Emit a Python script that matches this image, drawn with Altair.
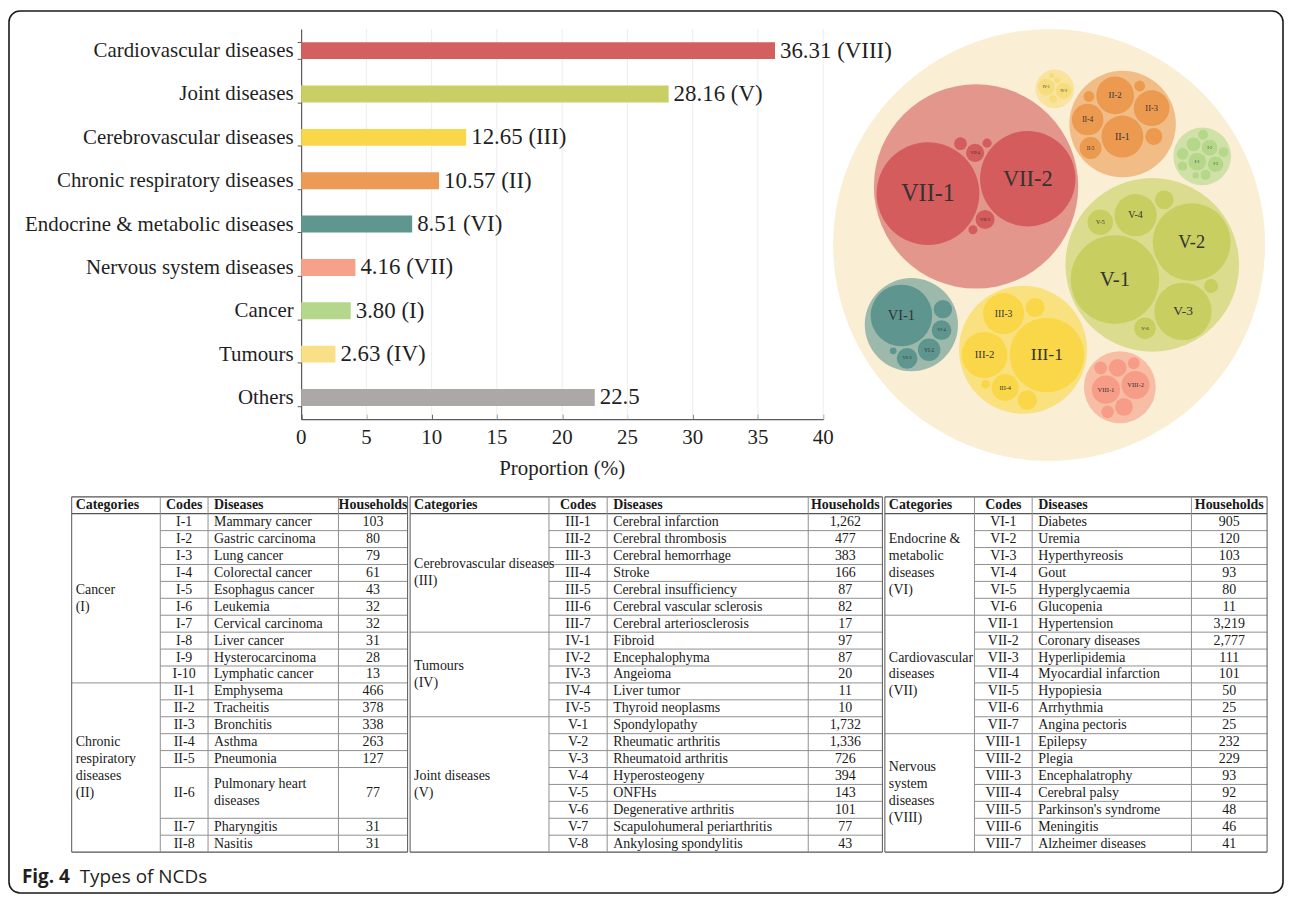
import math
import altair as alt
import pandas as pd

SERIF = "Liberation Serif"
SANS = "Open Sans"
INK = "#1f1f1f"

# ------------------------------------------------------------------ bar chart data
BAR_CATEGORIES = ["Cardiovascular diseases", "Joint diseases", "Cerebrovascular diseases",
                  "Chronic respiratory diseases", "Endocrine & metabolic diseases",
                  "Nervous system diseases", "Cancer", "Tumours", "Others"]
BAR_VALUES = [36.31, 28.16, 12.65, 10.57, 8.51, 4.16, 3.80, 2.63, 22.5]
BAR_VALUE_TEXT = ["36.31", "28.16", "12.65", "10.57", "8.51", "4.16", "3.80", "2.63", "22.5"]
BAR_GROUP_TAGS = ["(VIII)", "(V)", "(III)", "(II)", "(VI)", "(VII)", "(I)", "(IV)", ""]
BAR_COLORS = ["#d45f5f", "#c9cf64", "#f9d64a", "#eb9b55", "#5f9790",
              "#f8a189", "#b5d78b", "#f9df86", "#aca8a7"]
BAR_TICKS = [0, 5, 10, 15, 20, 25, 30, 35, 40]
BAR_X_TITLE = "Proportion (%)"

# ------------------------------------------------------------------ NCD table data
GROUP_IDS = ["I", "II", "III", "IV", "V", "VI", "VII", "VIII"]
GROUP_LABELS = ["Cancer\n(I)", "Chronic\nrespiratory\ndiseases\n(II)",
                "Cerebrovascular diseases\n(III)", "Tumours\n(IV)", "Joint diseases\n(V)",
                "Endocrine &\nmetabolic\ndiseases\n(VI)", "Cardiovascular\ndiseases\n(VII)",
                "Nervous\nsystem\ndiseases\n(VIII)"]
GROUP_COLORS = ["#b4d78a", "#eb9a50", "#f9d748", "#f7dc7c", "#c8ce5f",
                "#5e958f", "#d45c5c", "#f79c86"]

DISEASES_I = ["Mammary cancer", "Gastric carcinoma", "Lung cancer", "Colorectal cancer",
              "Esophagus cancer", "Leukemia", "Cervical carcinoma", "Liver cancer",
              "Hysterocarcinoma", "Lymphatic cancer"]
HOUSEHOLDS_I = [103, 80, 79, 61, 43, 32, 32, 31, 28, 13]
DISEASES_II = ["Emphysema", "Tracheitis", "Bronchitis", "Asthma", "Pneumonia",
               "Pulmonary heart\ndiseases", "Pharyngitis", "Nasitis"]
HOUSEHOLDS_II = [466, 378, 338, 263, 127, 77, 31, 31]
DISEASES_III = ["Cerebral infarction", "Cerebral thrombosis", "Cerebral hemorrhage", "Stroke",
                "Cerebral insufficiency", "Cerebral vascular sclerosis",
                "Cerebral arteriosclerosis"]
HOUSEHOLDS_III = [1262, 477, 383, 166, 87, 82, 17]
DISEASES_IV = ["Fibroid", "Encephalophyma", "Angeioma", "Liver tumor", "Thyroid neoplasms"]
HOUSEHOLDS_IV = [97, 87, 20, 11, 10]
DISEASES_V = ["Spondylopathy", "Rheumatic arthritis", "Rheumatoid arthritis", "Hyperosteogeny",
              "ONFHs", "Degenerative arthritis", "Scapulohumeral periarthritis",
              "Ankylosing spondylitis"]
HOUSEHOLDS_V = [1732, 1336, 726, 394, 143, 101, 77, 43]
DISEASES_VI = ["Diabetes", "Uremia", "Hyperthyreosis", "Gout", "Hyperglycaemia", "Glucopenia"]
HOUSEHOLDS_VI = [905, 120, 103, 93, 80, 11]
DISEASES_VII = ["Hypertension", "Coronary diseases", "Hyperlipidemia", "Myocardial infarction",
                "Hypopiesia", "Arrhythmia", "Angina pectoris"]
HOUSEHOLDS_VII = [3219, 2777, 111, 101, 50, 25, 25]
DISEASES_VIII = ["Epilepsy", "Plegia", "Encephalatrophy", "Cerebral palsy",
                 "Parkinson's syndrome", "Meningitis", "Alzheimer diseases"]
HOUSEHOLDS_VIII = [232, 229, 93, 92, 48, 46, 41]

BUBBLE_LABELED_CODES = ["I-1", "I-2", "I-3", "II-1", "II-2", "II-3", "II-4", "II-5",
                        "III-1", "III-2", "III-3", "III-4", "IV-1", "IV-2",
                        "V-1", "V-2", "V-3", "V-4", "V-5", "V-6",
                        "VI-1", "VI-2", "VI-3", "VI-4", "VII-1", "VII-2", "VII-3", "VII-4",
                        "VIII-1", "VIII-2"]

DISEASES = [DISEASES_I, DISEASES_II, DISEASES_III, DISEASES_IV,
            DISEASES_V, DISEASES_VI, DISEASES_VII, DISEASES_VIII]
HOUSEHOLDS = [HOUSEHOLDS_I, HOUSEHOLDS_II, HOUSEHOLDS_III, HOUSEHOLDS_IV,
              HOUSEHOLDS_V, HOUSEHOLDS_VI, HOUSEHOLDS_VII, HOUSEHOLDS_VIII]

# ------------------------------------------------------------------ layout (chart view pixels)
W, H = 1280, 886
BAR_X_RANGE = [293.5, 818.0]
BAR_Y_RANGE = [18.0, 410.0]
BAR_TICK_LABEL_GAP = 19
BAR_TITLE_GAP = 50
BUB_X_RANGE = [828.0, 1262.0]
BUB_Y_RANGE = [18.0, 452.0]
TAB_X_RANGE = [63.0, 1264.0]
TAB_Y_RANGE = [488.0, 845.0]
TAB_BLOCKS = [["I", "II"], ["III", "IV", "V"], ["VI", "VII", "VIII"]]
TAB_COL_EDGES = [[0, 89, 137, 268, 337.5], [340, 479.5, 538, 740, 814.5],
                 [817, 907, 965, 1125, 1201]]
TAB_ROW_SPAN = {"II-6": 3}
TAB_ROWS = 21
CAPTION_Y = 870
PACK_ORDER = ["VII", "V", "III", "II", "IV", "VI", "I", "VIII"]   # placement sequence
PACK_PAD_TOP = 1.5
PACK_PAD_CHILD = 1.0
PACK_EDGE = 1.0
OUTER_MARGIN = 1.04
TOP_ANGLE = 24.0
GROUP_ANGLES = {"I": -48, "II": -100, "III": 180, "IV": 12, "V": -26,
                "VI": 51, "VII": -8.5, "VIII": -9}
LABEL_FONT_RATIO = 0.47


# ------------------------------------------------------------------ circle packing (front-chain)
class Circle:
    __slots__ = ("r", "x", "y")

    def __init__(self, r, x=0.0, y=0.0):
        self.r, self.x, self.y = r, x, y


class FrontNode:
    __slots__ = ("c", "next", "prev")

    def __init__(self, c):
        self.c, self.next, self.prev = c, None, None


def _place(b, a, c):
    dx, dy = b.x - a.x, b.y - a.y
    d2 = dx * dx + dy * dy
    if d2:
        a2 = (a.r + c.r) ** 2
        b2 = (b.r + c.r) ** 2
        if a2 > b2:
            x = (d2 + b2 - a2) / (2 * d2)
            y = math.sqrt(max(0.0, b2 / d2 - x * x))
            c.x = b.x - x * dx - y * dy
            c.y = b.y - x * dy + y * dx
        else:
            x = (d2 + a2 - b2) / (2 * d2)
            y = math.sqrt(max(0.0, a2 / d2 - x * x))
            c.x = a.x + x * dx - y * dy
            c.y = a.y + x * dy + y * dx
    else:
        c.x, c.y = a.x + c.r, a.y


def _intersects(a, b):
    dr = a.r + b.r - 1e-6
    dx, dy = b.x - a.x, b.y - a.y
    return dr > 0 and dr * dr > dx * dx + dy * dy


def _score(node):
    a, b = node.c, node.next.c
    ab = a.r + b.r
    dx = (a.x * b.r + b.x * a.r) / ab
    dy = (a.y * b.r + b.y * a.r) / ab
    return dx * dx + dy * dy


def _encloses_not(a, b):
    dr = a.r - b.r
    dx, dy = b.x - a.x, b.y - a.y
    return dr < 0 or dr * dr < dx * dx + dy * dy


def _encloses_weak(a, b):
    dr = a.r - b.r + max(a.r, b.r, 1) * 1e-9
    dx, dy = b.x - a.x, b.y - a.y
    return dr > 0 and dr * dr > dx * dx + dy * dy


def _encloses_weak_all(a, B):
    return all(_encloses_weak(a, b) for b in B)


def _basis2(a, b):
    x21, y21, r21 = b.x - a.x, b.y - a.y, b.r - a.r
    l = math.sqrt(x21 * x21 + y21 * y21)
    return Circle((l + a.r + b.r) / 2, (a.x + b.x + x21 / l * r21) / 2,
                  (a.y + b.y + y21 / l * r21) / 2)


def _basis3(a, b, c):
    x1, y1, r1 = a.x, a.y, a.r
    x2, y2, r2 = b.x, b.y, b.r
    x3, y3, r3 = c.x, c.y, c.r
    a2, a3 = x1 - x2, x1 - x3
    b2, b3 = y1 - y2, y1 - y3
    c2, c3 = r2 - r1, r3 - r1
    d1 = x1 * x1 + y1 * y1 - r1 * r1
    d2 = d1 - x2 * x2 - y2 * y2 + r2 * r2
    d3 = d1 - x3 * x3 - y3 * y3 + r3 * r3
    ab = a3 * b2 - a2 * b3
    xa = (b2 * d3 - b3 * d2) / (ab * 2) - x1
    xb = (b3 * c2 - b2 * c3) / ab
    ya = (a3 * d2 - a2 * d3) / (ab * 2) - y1
    yb = (a2 * c3 - a3 * c2) / ab
    A = xb * xb + yb * yb - 1
    Bq = 2 * (r1 + xa * xb + ya * yb)
    Cq = xa * xa + ya * ya - r1 * r1
    if abs(A) > 1e-6:
        r = -((Bq + math.sqrt(max(0.0, Bq * Bq - 4 * A * Cq))) / (2 * A))
    else:
        r = -(Cq / Bq)
    return Circle(r, x1 + xa + xb * r, y1 + ya + yb * r)


def _basis(B):
    if len(B) == 1:
        return Circle(B[0].r, B[0].x, B[0].y)
    if len(B) == 2:
        return _basis2(B[0], B[1])
    return _basis3(B[0], B[1], B[2])


def _extend_basis(B, p):
    if _encloses_weak_all(p, B):
        return [p]
    for i in range(len(B)):
        if _encloses_not(p, B[i]) and _encloses_weak_all(_basis2(B[i], p), B):
            return [B[i], p]
    for i in range(len(B) - 1):
        for j in range(i + 1, len(B)):
            if (_encloses_not(_basis2(B[i], B[j]), p)
                    and _encloses_not(_basis2(B[i], p), B[j])
                    and _encloses_not(_basis2(B[j], p), B[i])
                    and _encloses_weak_all(_basis3(B[i], B[j], p), B)):
                return [B[i], B[j], p]
    raise RuntimeError("enclose failed")


def _enclose(circles):
    try:
        i, n, B, e, guard = 0, len(circles), [], None, 0
        while i < n:
            p = circles[i]
            if e is not None and _encloses_weak(e, p):
                i += 1
            else:
                B = _extend_basis(B, p)
                e = _basis(B)
                i = 0
            guard += 1
            if guard > 200000:
                raise RuntimeError("enclose loop")
        return e
    except Exception:
        cx = sum(c.x for c in circles) / len(circles)
        cy = sum(c.y for c in circles) / len(circles)
        r = max(math.hypot(c.x - cx, c.y - cy) + c.r for c in circles)
        return Circle(r, cx, cy)


def pack_siblings(circles):
    n = len(circles)
    if n == 0:
        return 0.0
    a = circles[0]
    a.x = a.y = 0.0
    if n == 1:
        return a.r
    b = circles[1]
    a.x, b.x, b.y = -b.r, a.r, 0.0
    if n == 2:
        return a.r + b.r
    c = circles[2]
    _place(b, a, c)
    a, b, c = FrontNode(a), FrontNode(b), FrontNode(c)
    a.next = b; c.prev = b
    b.next = c; a.prev = c
    c.next = a; b.prev = a
    i = 3
    while i < n:
        circ = circles[i]
        _place(a.c, b.c, circ)
        node = FrontNode(circ)
        j, k = b.next, a.prev
        sj, sk = b.c.r, a.c.r
        retry = False
        while True:
            if sj <= sk:
                if _intersects(j.c, circ):
                    b = j; a.next = b; b.prev = a
                    retry = True
                    break
                sj += j.c.r; j = j.next
            else:
                if _intersects(k.c, circ):
                    a = k; a.next = b; b.prev = a
                    retry = True
                    break
                sk += k.c.r; k = k.prev
            if j is k.next:
                break
        if retry:
            continue
        node.prev = a; node.next = b
        a.next = node; b.prev = node
        b = node
        aa = _score(a)
        cur = node
        while True:
            cur = cur.next
            if cur is b:
                break
            ca = _score(cur)
            if ca < aa:
                a, aa = cur, ca
        b = a.next
        i += 1
    chain = [b.c]
    cur = b
    while True:
        cur = cur.next
        if cur is b:
            break
        chain.append(cur.c)
    e = _enclose(chain)
    for circ in circles:
        circ.x -= e.x
        circ.y -= e.y
    return e.r


def rotate(x, y, deg):
    t = math.radians(deg)
    return x * math.cos(t) - y * math.sin(t), x * math.sin(t) + y * math.cos(t)


# ------------------------------------------------------------------ bubble layout
group_totals = [sum(v) for v in HOUSEHOLDS]
order = [GROUP_IDS.index(gid) for gid in PACK_ORDER]
top_circles = [Circle(math.sqrt(group_totals[g]) + PACK_PAD_TOP) for g in order]
R_ENC = pack_siblings(top_circles)
R_OUT = R_ENC * OUTER_MARGIN

group_rows, child_rows = [], []
for circ, g in zip(top_circles, order):
    gx, gy = rotate(circ.x, circ.y, TOP_ANGLE)
    gr = circ.r - PACK_PAD_TOP
    gid = GROUP_IDS[g]
    group_rows.append({"x": gx, "y": gy, "d2": (2 * gr) ** 2, "fill": GROUP_COLORS[g]})
    vals = HOUSEHOLDS[g]
    kids = [Circle(math.sqrt(v) + PACK_PAD_CHILD) for v in vals]
    rc = pack_siblings(kids)
    f = (gr - PACK_EDGE) / rc
    for k, (kc, v) in enumerate(zip(kids, vals)):
        cx, cy = rotate(kc.x * f, kc.y * f, GROUP_ANGLES[gid])
        r = math.sqrt(v) * f
        child_rows.append({"code": f"{gid}-{k + 1}", "x": gx + cx, "y": gy + cy,
                           "r": r, "d2": (2 * r) ** 2, "fill": GROUP_COLORS[g]})

outer_df = pd.DataFrame({"x": [0.0], "y": [0.0], "d2": [(2 * R_OUT) ** 2], "fill": ["#faefd5"]})
group_df = pd.DataFrame(group_rows)
child_df = pd.DataFrame(child_rows)
label_df = child_df[child_df["code"].isin(BUBBLE_LABELED_CODES)].reset_index(drop=True)

# ------------------------------------------------------------------ table layout rows
LINE_LIGHT = "#8f8f8f"
LINE_DARK = "#555555"


def ml_y(center, text):
    # first line of a multi-line label sits at y; lift so that the block is centred
    return center - (text.count("\n")) / 2


lines, body_left, body_center, head_left, head_center = [], [], [], [], []
for bi, block in enumerate(TAB_BLOCKS):
    e = TAB_COL_EDGES[bi]
    head_left += [{"x": e[0] + 4, "y": 0.5, "t": "Categories"},
                  {"x": e[2] + 6, "y": 0.5, "t": "Diseases"}]
    head_center += [{"x": (e[1] + e[2]) / 2, "y": 0.5, "t": "Codes"},
                    {"x": (e[3] + e[4]) / 2, "y": 0.5, "t": "Households"}]
    row = 1
    for gi_, gid in enumerate(block):
        g = GROUP_IDS.index(gid)
        start = row
        for k, (d, v) in enumerate(zip(DISEASES[g], HOUSEHOLDS[g])):
            code = f"{gid}-{k + 1}"
            span = TAB_ROW_SPAN.get(code, 1)
            yc = row + span / 2
            body_center += [{"x": (e[1] + e[2]) / 2, "y": yc, "t": code},
                            {"x": (e[3] + e[4]) / 2, "y": yc, "t": f"{v:,}"}]
            body_left.append({"x": e[2] + 6, "y": ml_y(yc, d), "t": d})
            row += span
            if k < len(DISEASES[g]) - 1:
                lines.append({"x": e[1], "x2": e[4], "y": row, "y2": row, "c": LINE_LIGHT, "w": 1.0})
        body_left.append({"x": e[0] + 4, "y": ml_y((start + row) / 2, GROUP_LABELS[g]),
                          "t": GROUP_LABELS[g]})
        if gi_ < len(block) - 1:
            lines.append({"x": e[0], "x2": e[4], "y": row, "y2": row, "c": LINE_LIGHT, "w": 1.0})
    for yy in (0, 1, TAB_ROWS):
        lines.append({"x": e[0], "x2": e[4], "y": yy, "y2": yy, "c": LINE_DARK, "w": 1.2})
    for xi, xx in enumerate(e):
        col = LINE_DARK if xi in (0, len(e) - 1) else LINE_LIGHT
        lines.append({"x": xx, "x2": xx, "y": 0, "y2": TAB_ROWS, "c": col, "w": 1.0})

lines_df = pd.DataFrame(lines)

# ------------------------------------------------------------------ charts
bar_df = pd.DataFrame({
    "category": BAR_CATEGORIES,
    "value": BAR_VALUES,
    "label": [f"{t} {g}".strip() for t, g in zip(BAR_VALUE_TEXT, BAR_GROUP_TAGS)],
    "color": BAR_COLORS,
})
bar_x_scale = alt.Scale(domain=[0, 40], range=BAR_X_RANGE, nice=False, zero=True)
bar_y_scale = alt.Scale(domain=BAR_CATEGORIES, range=BAR_Y_RANGE,
                        paddingInner=0.61, paddingOuter=0.305)

grid_df = pd.DataFrame({"tick": BAR_TICKS[1:], "lo": 0.0, "hi": 1.0})
bar_grid = alt.Chart(grid_df).mark_rule(color="#ededed", strokeWidth=1).encode(
    x=alt.X("tick:Q", scale=bar_x_scale, axis=None),
    y=alt.Y("lo:Q", scale=alt.Scale(domain=[0, 1], range=BAR_Y_RANGE[::-1], nice=False), axis=None),
    y2="hi:Q",
)

bars = alt.Chart(bar_df).mark_bar().encode(
    x=alt.X("value:Q", scale=bar_x_scale,
            axis=alt.Axis(orient="bottom", offset=BAR_Y_RANGE[1] - H, values=BAR_TICKS,
                          grid=False, ticks=False, labels=False, title=None,
                          domainColor="#5a5a5a", domainWidth=1.2)),
    y=alt.Y("category:N", scale=bar_y_scale,
            axis=alt.Axis(orient="left", offset=-BAR_X_RANGE[0], tickBand="extent", tickSize=4,
                          tickColor="#5a5a5a", domainColor="#5a5a5a", domainWidth=1.2,
                          labelFont=SERIF, labelFontSize=21, labelColor=INK, labelPadding=4,
                          labelLimit=400, title=None, grid=False)),
    color=alt.Color("color:N", scale=None),
)

bar_labels = alt.Chart(bar_df).mark_text(
    align="left", baseline="middle", dx=5, font=SERIF, fontSize=23, color=INK
).encode(
    x=alt.X("value:Q", scale=bar_x_scale,
            axis=alt.Axis(orient="top", offset=-BAR_Y_RANGE[1], values=BAR_TICKS, labels=False,
                          domain=False, grid=False, ticks=True, tickSize=5,
                          tickColor="#5a5a5a", title=None)),
    y=alt.Y("category:N", scale=bar_y_scale, axis=None),
    text="label:N",
)

tick_df = pd.DataFrame({"tick": BAR_TICKS, "t": [str(v) for v in BAR_TICKS]})
bar_tick_labels = alt.Chart(tick_df).mark_text(
    align="center", baseline="middle", font=SERIF, fontSize=21, color=INK
).encode(
    x=alt.X("tick:Q", scale=bar_x_scale, axis=None),
    y=alt.value(BAR_Y_RANGE[1] + BAR_TICK_LABEL_GAP),
    text="t:N",
)
bar_title = alt.Chart(pd.DataFrame({"mid": [20.0], "t": [BAR_X_TITLE]})).mark_text(
    align="center", baseline="middle", font=SERIF, fontSize=21, color=INK
).encode(
    x=alt.X("mid:Q", scale=bar_x_scale, axis=None),
    y=alt.value(BAR_Y_RANGE[1] + BAR_TITLE_GAP),
    text="t:N",
)

bub_x = alt.Scale(domain=[-R_OUT, R_OUT], range=BUB_X_RANGE, nice=False, zero=False)
bub_y = alt.Scale(domain=[-R_OUT, R_OUT], range=BUB_Y_RANGE, nice=False, zero=False)
bub_px = BUB_X_RANGE[1] - BUB_X_RANGE[0]


def bubble_layer(df, opacity):
    return alt.Chart(df).mark_circle(opacity=opacity, strokeWidth=0).encode(
        x=alt.X("x:Q", scale=bub_x, axis=None),
        y=alt.Y("y:Q", scale=bub_y, axis=None),
        size=alt.Size("d2:Q", legend=None,
                      scale=alt.Scale(type="linear", domain=[0, (2 * R_OUT) ** 2],
                                      range=[0, bub_px ** 2], zero=True, nice=False)),
        color=alt.Color("fill:N", scale=None),
    )


outer_layer = bubble_layer(outer_df, 1.0)
group_layer = bubble_layer(group_df, 0.6)
child_layer = bubble_layer(child_df, 1.0)

bubble_text = alt.Chart(label_df).mark_text(
    font=SERIF, color="#333333", baseline="middle", align="center"
).encode(
    x=alt.X("x:Q", scale=bub_x, axis=None),
    y=alt.Y("y:Q", scale=bub_y, axis=None),
    size=alt.Size("r:Q", legend=None,
                  scale=alt.Scale(domain=[0, R_OUT], range=[0, LABEL_FONT_RATIO * bub_px / 2],
                                  zero=True, nice=False)),
    text="code:N",
)

tab_x = alt.Scale(domain=[0, TAB_COL_EDGES[-1][-1]], range=TAB_X_RANGE, nice=False, zero=False)
tab_y = alt.Scale(domain=[0, TAB_ROWS], range=TAB_Y_RANGE, nice=False, zero=False)

table_lines = alt.Chart(lines_df).mark_rule().encode(
    x=alt.X("x:Q", scale=tab_x, axis=None), x2="x2:Q",
    y=alt.Y("y:Q", scale=tab_y, axis=None), y2="y2:Q",
    color=alt.Color("c:N", scale=None),
    strokeWidth=alt.StrokeWidth("w:Q", scale=None),
)


def table_text(rows, align, weight):
    return alt.Chart(pd.DataFrame(rows)).mark_text(
        align=align, baseline="middle", font=SERIF, fontSize=14, fontWeight=weight,
        lineBreak="\n", lineHeight=17, color="#1a1a1a"
    ).encode(
        x=alt.X("x:Q", scale=tab_x, axis=None),
        y=alt.Y("y:Q", scale=tab_y, axis=None),
        text="t:N",
    )


tab_head_left = table_text(head_left, "left", "bold")
tab_head_center = table_text(head_center, "center", "bold")
tab_body_left = table_text(body_left, "left", "normal")
tab_body_center = table_text(body_center, "center", "normal")

cap_fig = alt.Chart(pd.DataFrame({"t": ["Fig. 4"]})).mark_text(
    align="left", baseline="middle", font=SANS, fontSize=19, fontWeight="bold", color="#231f20"
).encode(x=alt.value(13), y=alt.value(CAPTION_Y), text="t:N")
cap_title = alt.Chart(pd.DataFrame({"t": ["Types of NCDs"]})).mark_text(
    align="left", baseline="middle", font=SANS, fontSize=19, color="#231f20"
).encode(x=alt.value(71), y=alt.value(CAPTION_Y), text="t:N")

chart = alt.layer(
    bar_grid, bars, bar_labels, bar_tick_labels, bar_title,
    outer_layer, group_layer, child_layer, bubble_text,
    table_lines, tab_head_left, tab_head_center, tab_body_left, tab_body_center,
    cap_fig, cap_title,
).resolve_scale(
    x="independent", y="independent", size="independent"
).resolve_axis(
    x="independent", y="independent"
).properties(
    width=W, height=H,
    padding={"left": 1, "top": 1, "right": 1, "bottom": 1},
    autosize=alt.AutoSizeParams(type="none"),
    background="white",
).configure_view(
    stroke="#1a1a1a", strokeWidth=1.6, cornerRadius=11
).configure_axis(
    labelFont=SERIF, titleFont=SERIF
).configure_text(
    font=SERIF
)

chart.save("out.html", embed_options={"renderer": "svg", "actions": False})
